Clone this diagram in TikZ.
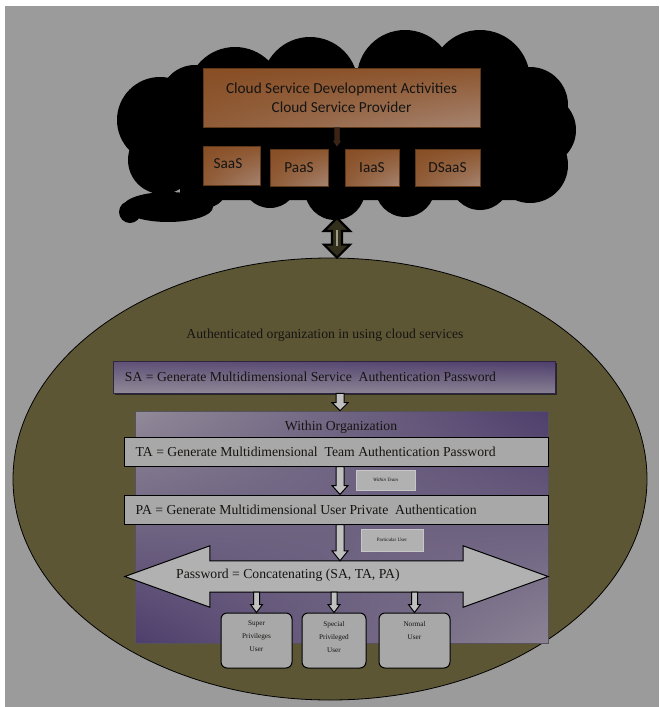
\documentclass[tikz,border=0pt]{standalone}
\usepackage{fontspec}
\setmainfont{Liberation Serif}
\newfontfamily\calibri{Carlito}
\usetikzlibrary{calc,shadows,shadings,shapes.geometric}

\definecolor{bggrey}{RGB}{155,155,155}
\definecolor{olivefill}{RGB}{93,86,53}
\definecolor{brownD}{RGB}{136,78,36}
\definecolor{brownL}{RGB}{166,132,112}
\definecolor{purpD}{RGB}{78,62,108}
\definecolor{purpL}{RGB}{145,138,152}
\definecolor{boxgrey}{RGB}{168,168,168}
\definecolor{arrgrey}{RGB}{192,192,192}
\definecolor{inkc}{RGB}{22,20,18}

% draws a downward block arrow from #2 to #3 (shaft half-width #4, head half-width #5, head length #6)
\newcommand\blockdown[6]{%
  \draw[#1] let \p1=(#2), \p2=(#3) in
    (\x1-#4,\y1) -- (\x1+#4,\y1) -- (\x1+#4,\y2+#6) -- (\x1+#5,\y2+#6)
    -- (\x1,\y2) -- (\x1-#5,\y2+#6) -- (\x1-#4,\y2+#6) -- cycle;}

\begin{document}
\begin{tikzpicture}[x=1pt,y=-1pt,
  svcbox/.style={draw=brownD!70!black, line width=0.6pt,
     upper left=brownD, upper right=brownD!85!brownL, lower left=brownD!75!brownL, lower right=brownL,
     inner sep=0pt, text=inkc, font=\calibri\fontsize{15.3}{19}\selectfont},
  passbox/.style={draw=black, line width=1pt, fill=boxgrey, inner sep=0pt},
  tagbox/.style={draw=white!78!black, line width=0.8pt, fill=arrgrey!92!black, inner sep=0pt,
     font=\fontsize{5}{6}\selectfont, text=inkc},
  userbox/.style={draw=black, line width=1pt, fill=boxgrey, rounded corners=6pt, inner sep=0pt},
  usertext/.style={font=\fontsize{7.2}{13}\selectfont, align=center, text=inkc, anchor=north},
  blockarr/.style={draw=black, line width=1pt, fill=arrgrey, line join=miter},
  bodytext/.style={text=inkc, inner sep=0pt, font=\fontsize{13.7}{16}\selectfont}]

\useasboundingbox (0,0) rectangle (659,707);
\fill[white] (0,0) rectangle (659,707);
\fill[bggrey] (5,6) rectangle (659,707);

% ---- organisation ellipse
\node[ellipse, draw=black, line width=0.8pt, fill=olivefill, minimum width=634pt, minimum height=442pt,
      inner sep=0pt] (org) at (330,479) {};

% ---- cloud: a solid core with puffs round its rim
\fill[black]
  (180,75) rectangle (545,200)
  (235,95) circle[radius=48pt]
  (310,85) circle[radius=48pt]
  (405,78) circle[radius=48pt]
  (480,80) circle[radius=50pt]
  (530,105) circle[radius=38pt]
  (540,130) circle[radius=36pt]
  (530,165) circle[radius=38pt]
  (480,180) circle[radius=30pt]
  (405,187) circle[radius=30pt]
  (335,190) circle[radius=30pt]
  (270,180) circle[radius=28pt]
  (195,100) circle[radius=35pt]
  (160,120) circle[radius=43pt]
  (162,160) circle[radius=34pt]
  (205,185) circle[radius=23pt]
  (168,207) ellipse[x radius=45pt, y radius=15pt]
  (130,212) circle[radius=11pt];
\coordinate (cloudbot) at (337,218);

% ---- provider boxes
\node[svcbox, minimum width=277pt, minimum height=59pt, align=center] (csd) at (341.5,97.5)
  {Cloud Service Development Activities\\Cloud Service Provider};
\node[svcbox, minimum width=57pt, minimum height=39pt] (saas) at (231.5,166) {};
\node[text=inkc, font=\calibri\fontsize{15.3}{19}\selectfont] (saastext) at (228,164) {SaaS};
\node[svcbox, minimum width=58pt, minimum height=37pt] (paas) at (299,167.5) {PaaS};
\node[svcbox, minimum width=54pt, minimum height=37pt] (iaas) at (372,167.5) {IaaS};
\node[svcbox, minimum width=65pt, minimum height=37pt] (dsaas) at (447.5,167.5) {DSaaS};
\coordinate (gap) at (337,146);
\blockdown{draw=black!80, fill=brownD!45!black, line width=0.4pt}{[xshift=-4.5pt]csd.south}{gap}{2.5pt}{3.5pt}{5pt}

% ---- link between provider and organisation
\draw[draw=black, line width=2.2pt, fill=olivefill!55!black, line join=miter]
  let \p1=(cloudbot), \p2=(org.north) in
  (\x1,\y1) -- (\x1+13pt,\y1-13pt) -- (\x1+5pt,\y1-13pt) -- (\x1+5pt,\y2+13pt) -- (\x1+13pt,\y2+13pt)
  -- (\x1,\y2) -- (\x1-13pt,\y2+13pt) -- (\x1-5pt,\y2+13pt) -- (\x1-5pt,\y1-13pt) -- (\x1-13pt,\y1-13pt) -- cycle;
\draw[olivefill!60!white, line width=1.2pt] let \p1=(cloudbot), \p2=(org.north) in
  (\x1,\y1-12pt) -- (\x1,\y2+12pt);

\node[bodytext] (orgtitle) at (325,335) {Authenticated organization in using cloud services};

% ---- service authentication
\node[draw=purpD!60!black, line width=0.5pt,
      upper left=purpD!75!purpL, upper right=purpD, lower left=purpL, lower right=purpL!85!purpD,
      minimum width=442pt, minimum height=32pt, inner sep=0pt,
      drop shadow={shadow xshift=1.5pt, shadow yshift=-2pt, fill=black!85, opacity=1}] (sa) at (334,377) {};
\node[bodytext, anchor=west] (satext) at ([xshift=12pt]sa.west)
  {SA = Generate Multidimensional Service\ \ Authentication Password};

% ---- organisation panel
\node[upper left=purpL, upper right=purpD, lower left=purpD, lower right=purpL!92!purpD,
      draw=purpL!60!black, line width=0.6pt, minimum width=413pt, minimum height=232pt, inner sep=0pt]
      (panel) at (341.5,527) {};
\node[bodytext] (within) at (341,427) {Within Organization};
\blockdown{blockarr}{[xshift=6pt]sa.south}{[xshift=-1.5pt]panel.north}{4pt}{8pt}{8pt}

\node[passbox, minimum width=424pt, minimum height=29pt] (ta) at (336,451.5) {};
\node[bodytext, anchor=west] (tatext) at ([xshift=12pt]ta.west)
  {TA = Generate Multidimensional\ \ Team Authentication Password};

\node[passbox, minimum width=424pt, minimum height=29pt] (pa) at (336,509.5) {};
\node[bodytext, anchor=west] (patext) at ([xshift=12pt]pa.west)
  {PA = Generate Multidimensional User Private\ \ Authentication};

\blockdown{blockarr}{[xshift=4pt]ta.south}{[xshift=4pt]pa.north}{4pt}{8pt}{9pt}
\node[tagbox, minimum width=59pt, minimum height=20pt, font=\itshape\fontsize{5}{6}\selectfont] (team) at (385.5,480) {Within Team};

% ---- combined password
\node[minimum width=253pt, minimum height=31pt, inner sep=0pt] (pw) at (336.5,576.5) {};
\draw[blockarr, fill=arrgrey!92!black]
  (pw.north west) -- ([yshift=15pt]pw.north west) -- ($(pw.west)+(-85pt,0)$) -- ([yshift=-15pt]pw.south west)
  -- (pw.south west) -- (pw.south east) -- ([yshift=-15pt]pw.south east) -- ($(pw.east)+(85pt,0)$)
  -- ([yshift=15pt]pw.north east) -- (pw.north east) -- cycle;
\node[bodytext, anchor=west] (pwtext) at (176,575) {Password = Concatenating (SA, TA, PA)};

\blockdown{blockarr}{[xshift=4pt]pa.south}{[xshift=3.5pt]pw.north}{4pt}{8pt}{10pt}
\node[tagbox, minimum width=62pt, minimum height=22pt] (partic) at (392,540) {Particular User};

% ---- user classes
\node[userbox, minimum width=71pt, minimum height=55pt] (su) at (256.5,640.5) {};
\node[userbox, minimum width=64pt, minimum height=55pt] (spu) at (334,640.5) {};
\node[userbox, minimum width=71pt, minimum height=55pt] (nu) at (414.5,640.5) {};
\node[usertext] (sutext) at ([yshift=-5pt]su.north) {Super\\Privileges\\User};
\node[usertext] (sputext) at ([yshift=-5pt]spu.north) {Special\\Privileged\\User};
\node[usertext] (nutext) at ([yshift=-5pt]nu.north) {Normal\\User};

\blockdown{blockarr}{pw.south -| su.north}{su.north}{3pt}{6pt}{8pt}
\blockdown{blockarr}{pw.south -| spu.north}{spu.north}{3pt}{6pt}{8pt}
\blockdown{blockarr}{pw.south -| nu.north}{nu.north}{3pt}{6pt}{8pt}

\end{tikzpicture}
\end{document}
